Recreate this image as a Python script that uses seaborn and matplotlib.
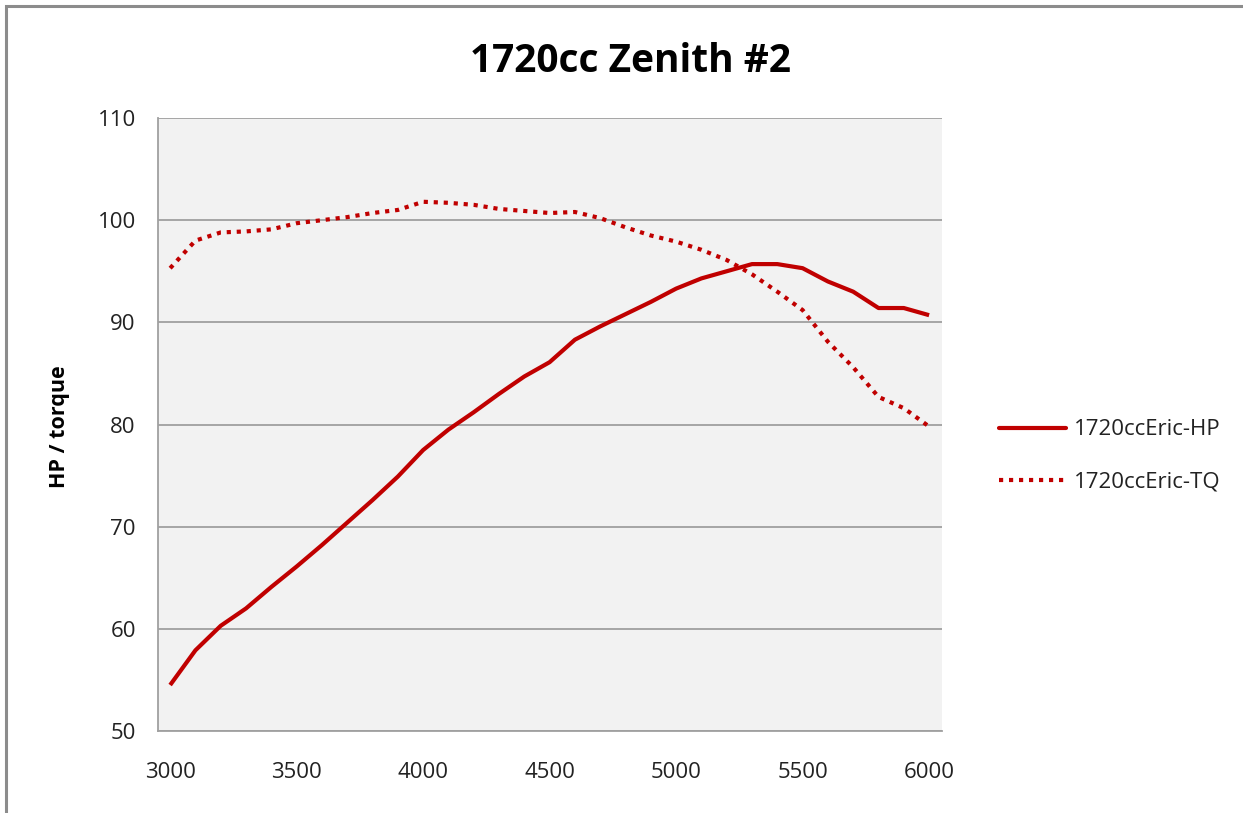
import numpy as np
import pandas as pd
import matplotlib
matplotlib.use("Agg")
import matplotlib.pyplot as plt
import seaborn as sns
from matplotlib.lines import Line2D
from matplotlib.patches import Rectangle

rpm = list(range(3000, 6001, 100))
hp = [54.5, 57.9, 60.3, 62.0, 64.1, 66.1, 68.2, 70.4, 72.6, 74.9, 77.5, 79.5, 81.2,
      83.0, 84.7, 86.1, 88.3, 89.6, 90.8, 92.0, 93.3, 94.3, 95.0, 95.7, 95.7, 95.3,
      94.0, 93.0, 91.4, 91.4, 90.7]
tq = [95.3, 98.0, 98.8, 98.9, 99.1, 99.7, 100.0, 100.3, 100.7, 101.0, 101.8, 101.7,
      101.5, 101.1, 100.9, 100.7, 100.8, 100.2, 99.3, 98.5, 97.9, 97.1, 96.1, 94.7,
      93.0, 91.2, 88.1, 85.6, 82.7, 81.6, 79.8]
series_names = ["1720ccEric-HP", "1720ccEric-TQ"]
title = "1720cc Zenith #2"
ylabel = "HP / torque"
xticks = [3000, 3500, 4000, 4500, 5000, 5500, 6000]
yticks = [50, 60, 70, 80, 90, 100, 110]

df = pd.DataFrame({"rpm": rpm, series_names[0]: hp, series_names[1]: tq})

sns.set_theme(style="white")
plt.rcParams['font.family'] = ['Open Sans', 'DejaVu Sans']

W, H = 1243, 813
fig = plt.figure(figsize=(W / 100, H / 100), dpi=100)
fig.patch.set_facecolor("white")
ax = fig.add_axes([158 / W, 1 - 731 / H, (942 - 158) / W, (731 - 118) / H])
ax.set_facecolor("#f2f2f2")

red = "#c00000"
lw = 3.0
sns.lineplot(data=df, x="rpm", y=series_names[0], ax=ax, color=red, linewidth=lw,
             solid_capstyle="butt", solid_joinstyle="round")
sns.lineplot(data=df, x="rpm", y=series_names[1], ax=ax, color=red, linewidth=lw,
             dashes=(1.0, 1.4), dash_capstyle="butt")

ax.set_xlim(2952, 6051)
ax.set_ylim(50, 110)
ax.set_xticks(xticks)
ax.set_yticks(yticks)
ax.yaxis.grid(True, color="#a0a0a0", linewidth=1.3)
ax.xaxis.grid(False)
ax.set_axisbelow(True)
for s in ["top", "right"]:
    ax.spines[s].set_visible(False)
for s in ["left", "bottom"]:
    ax.spines[s].set_visible(True)
    ax.spines[s].set_color("#a0a0a0")
    ax.spines[s].set_linewidth(1.3)
ax.tick_params(axis="both", length=0, labelsize=16, colors="#222222")
ax.tick_params(axis="x", pad=22)
ax.tick_params(axis="y", pad=16)
ax.set_xlabel("")
ax.set_ylabel("")

fig.text(630 / W, 1 - 61 / H, title, ha="center", va="center", fontsize=28,
         fontweight="bold", color="black")
fig.text(60 / W, 1 - 427 / H, ylabel, ha="center", va="center", rotation=90,
         fontsize=15.5, fontweight="bold", color="black")

handles = [Line2D([0], [0], color=red, linewidth=lw),
           Line2D([0], [0], color=red, linewidth=lw, dashes=(1.0, 1.4), dash_capstyle="butt")]
leg = fig.legend(handles, series_names, loc="center left",
                 bbox_to_anchor=(979 / W, 1 - 456 / H), frameon=False, fontsize=16,
                 handlelength=3.0, handletextpad=0.35, labelspacing=1.4)
for t in leg.get_texts():
    t.set_color("#222222")

fig.add_artist(Rectangle((6 / W, -0.1), 1.2, 1 - 6 / H + 0.1, transform=fig.transFigure,
                         fill=False, edgecolor="#8c8c8c", linewidth=2.2))

fig.savefig("out.png", dpi=100, facecolor="white")
